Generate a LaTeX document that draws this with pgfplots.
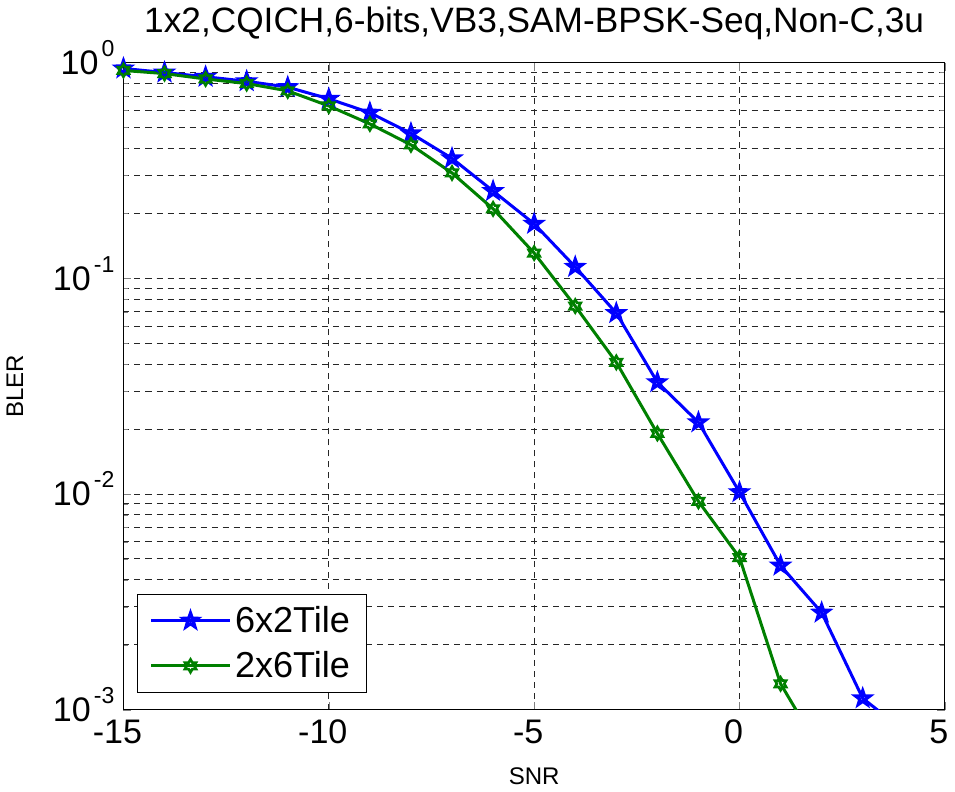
\documentclass[border=0pt]{standalone}
\usepackage{pgfplots}
\pgfplotsset{compat=1.18}
\usepackage{fontspec}
\setmainfont{Liberation Sans}

\definecolor{mblue}{rgb}{0,0,1}
\definecolor{mgreen}{rgb}{0,0.5,0}

% MATLAB-like pentagram and hexagram marks
\pgfdeclareplotmark{pentagram}{%
  \pgfpathmoveto{\pgfpointpolar{90}{\pgfplotmarksize}}%
  \pgfpathlineto{\pgfpointpolar{126}{0.4\pgfplotmarksize}}%
  \pgfpathlineto{\pgfpointpolar{162}{\pgfplotmarksize}}%
  \pgfpathlineto{\pgfpointpolar{198}{0.4\pgfplotmarksize}}%
  \pgfpathlineto{\pgfpointpolar{234}{\pgfplotmarksize}}%
  \pgfpathlineto{\pgfpointpolar{270}{0.4\pgfplotmarksize}}%
  \pgfpathlineto{\pgfpointpolar{306}{\pgfplotmarksize}}%
  \pgfpathlineto{\pgfpointpolar{342}{0.4\pgfplotmarksize}}%
  \pgfpathlineto{\pgfpointpolar{18}{\pgfplotmarksize}}%
  \pgfpathlineto{\pgfpointpolar{54}{0.4\pgfplotmarksize}}%
  \pgfpathclose\pgfusepathqstroke}
\pgfdeclareplotmark{hexagram}{%
  \pgfpathmoveto{\pgfpointpolar{90}{\pgfplotmarksize}}%
  \pgfpathlineto{\pgfpointpolar{120}{0.58\pgfplotmarksize}}%
  \pgfpathlineto{\pgfpointpolar{150}{\pgfplotmarksize}}%
  \pgfpathlineto{\pgfpointpolar{180}{0.58\pgfplotmarksize}}%
  \pgfpathlineto{\pgfpointpolar{210}{\pgfplotmarksize}}%
  \pgfpathlineto{\pgfpointpolar{240}{0.58\pgfplotmarksize}}%
  \pgfpathlineto{\pgfpointpolar{270}{\pgfplotmarksize}}%
  \pgfpathlineto{\pgfpointpolar{300}{0.58\pgfplotmarksize}}%
  \pgfpathlineto{\pgfpointpolar{330}{\pgfplotmarksize}}%
  \pgfpathlineto{\pgfpointpolar{0}{0.58\pgfplotmarksize}}%
  \pgfpathlineto{\pgfpointpolar{30}{\pgfplotmarksize}}%
  \pgfpathlineto{\pgfpointpolar{60}{0.58\pgfplotmarksize}}%
  \pgfpathclose\pgfusepathqstroke}

\newcommand{\ex}[1]{10\hspace{1.5pt}\raisebox{9pt}{\fontsize{11.5}{12}\selectfont #1}}

\pgfplotstableread{
snr bler
-15 0.94
-14 0.90
-13 0.86
-12 0.82
-11 0.77
-10 0.68
-9  0.586
-8  0.47
-7  0.36
-6  0.254
-5  0.179
-4  0.113
-3  0.069
-2  0.033
-1  0.0215
0   0.0102
1   0.00466
2   0.00282
3   0.00113
4   0.0008
}\tabA

\pgfplotstableread{
snr bler
-15 0.92
-14 0.89
-13 0.84
-12 0.80
-11 0.74
-10 0.63
-9  0.52
-8  0.416
-7  0.308
-6  0.21
-5  0.131
-4  0.0744
-3  0.0408
-2  0.0191
-1  0.00925
0   0.00508
1   0.00132
2   0.00063
}\tabB

\begin{document}
\begin{tikzpicture}
\begin{semilogyaxis}[
  scale only axis,
  width=410pt, height=323pt,
  xmin=-15, xmax=5,
  ymin=1e-3, ymax=1,
  xtick={-15,-10,-5,0,5},
  xticklabels={-15,-10,-5,0,5},
  ytick={1e-3,1e-2,1e-1,1},
  yticklabels={\ex{-3},\ex{-2},\ex{-1},\ex{0}},
  ticklabel style={font=\fontsize{17}{19}\selectfont},
  xticklabel style={xshift=-3pt, yshift=-1.5pt},
  yticklabel style={xshift=-1pt, yshift=2.5pt},
  /pgf/number format/assume math mode=true,
  tick align=inside,
  major tick length=4pt, minor tick length=2.5pt,
  xmajorgrids, ymajorgrids, yminorgrids,
  major grid style={black!85, line width=0.5pt, dash pattern=on 3pt off 2.5pt},
  minor grid style={black!85, line width=0.5pt, dash pattern=on 3pt off 2.5pt},
  axis line style={black, line width=0.6pt},
  title={1x2,CQICH,6-bits,VB3,SAM-BPSK-Seq,Non-C,3u},
  title style={font=\fontsize{17.6}{20}\selectfont, yshift=2pt},
  xlabel={SNR}, ylabel={BLER},
  label style={font=\fontsize{12}{14}\selectfont},
  xlabel style={yshift=-5pt},
  ylabel style={yshift=8pt},
  legend style={at={(0.017,0.026)}, anchor=south west, draw=black, line width=0.5pt,
    font=\fontsize{18}{20}\selectfont, row sep=4pt, inner xsep=6pt, inner ysep=4pt},
  legend cell align=left,
  legend image code/.code={\draw[mark repeat=2, mark phase=2] plot coordinates {(0pt,0pt) (19.5pt,0pt) (39pt,0pt)};},
]
\addplot[mblue, line width=1.5pt, mark=pentagram, mark size=3.8pt, mark options={solid, line width=1.6pt}] table[x=snr, y=bler] {\tabA};
\addlegendentry{6x2Tile}
\addplot[mgreen, line width=1.5pt, mark=hexagram, mark size=3.2pt, mark options={solid, line width=1.3pt}] table[x=snr, y=bler] {\tabB};
\addlegendentry{2x6Tile}
\end{semilogyaxis}
\end{tikzpicture}
\end{document}
